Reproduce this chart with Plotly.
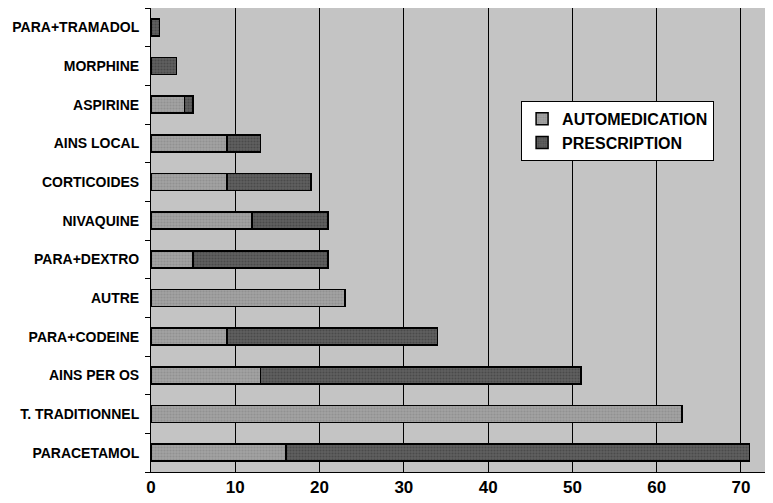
import plotly.graph_objs as go

# catégories de bas en haut (ordre de l'axe)
categories = [
    "PARACETAMOL", "T. TRADITIONNEL", "AINS PER OS", "PARA+CODEINE", "AUTRE",
    "PARA+DEXTRO", "NIVAQUINE", "CORTICOIDES", "AINS LOCAL", "ASPIRINE",
    "MORPHINE", "PARA+TRAMADOL",
]
automedication = [16, 63, 13, 9, 23, 5, 12, 9, 9, 4, 0, 0]
prescription = [55, 0, 38, 25, 0, 16, 9, 10, 4, 1, 3, 1]
x_ticks = [0, 10, 20, 30, 40, 50, 60, 70]

fig = go.Figure()
fig.add_trace(go.Bar(
    y=categories,
    x=automedication,
    name="AUTOMEDICATION",
    orientation="h",
    width=0.44,
    marker=dict(
        color="#9c9c9c",
        line=dict(color="black", width=1.5),
        pattern=dict(shape=".", fgcolor="#808080", bgcolor="#a2a2a2", size=3, solidity=0.4),
    ),
))
fig.add_trace(go.Bar(
    y=categories,
    x=prescription,
    name="PRESCRIPTION",
    orientation="h",
    width=0.44,
    marker=dict(
        color="#505050",
        line=dict(color="black", width=1.5),
        pattern=dict(shape=".", fgcolor="#333333", bgcolor="#606060", size=3, solidity=0.4),
    ),
))

# la page ajoute une marge de 8 px : la figure fait 765x495
fig.update_layout(
    width=765,
    height=495,
    barmode="stack",
    plot_bgcolor="#c4c4c4",
    paper_bgcolor="white",
    margin=dict(l=143, r=0, t=0, b=31),
    font=dict(family="Liberation Sans", size=14, color="black"),
    showlegend=True,
    legend=dict(
        x=0.595, y=0.80, xanchor="left", yanchor="top",
        bgcolor="white", bordercolor="black", borderwidth=1,
        font=dict(family="Liberation Sans", size=16, color="black", weight="bold"),
        traceorder="normal",
        itemwidth=30,
        tracegroupgap=4,
    ),
    xaxis=dict(
        range=[0, 73.8],
        tickvals=x_ticks,
        showgrid=True,
        gridcolor="black",
        gridwidth=1,
        zeroline=False,
        showline=True,
        mirror=True,
        linecolor="black",
        linewidth=1,
        ticks="",
        tickfont=dict(size=17, weight="bold"),
    ),
    yaxis=dict(
        categoryorder="array",
        categoryarray=categories,
        showgrid=False,
        showline=True,
        linecolor="black",
        linewidth=1,
        ticks="outside",
        tickson="boundaries",
        ticklen=5,
        tickcolor="black",
        tickfont=dict(size=14, weight="bold"),
        ticklabelstandoff=8,
    ),
)

fig.write_html("out.html")
